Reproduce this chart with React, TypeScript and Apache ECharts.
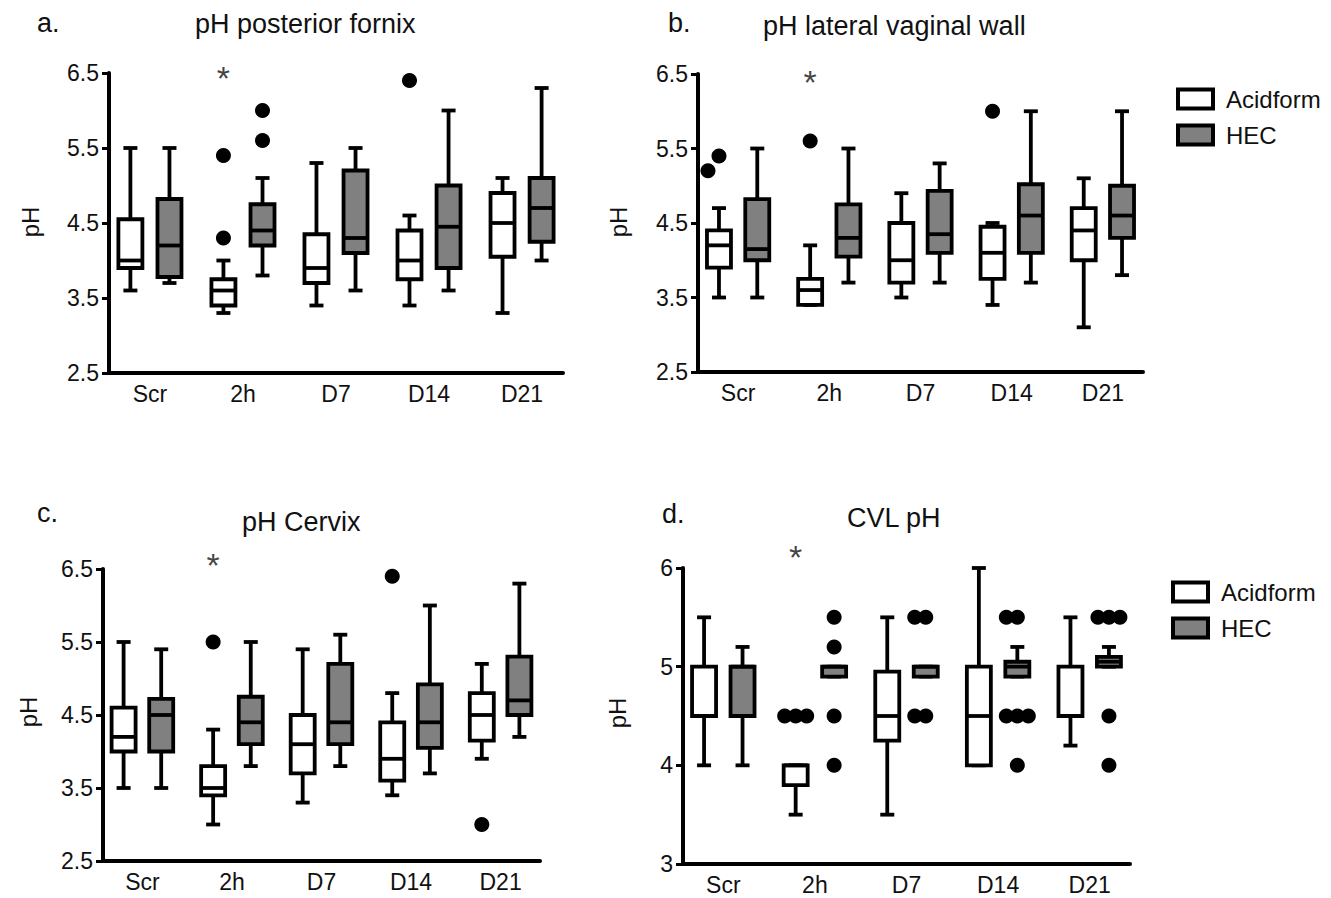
import React, { useEffect, useRef } from "react";
import * as echarts from "echarts";

// ---------- data ----------
const categories = ["Scr", "2h", "D7", "D14", "D21"];
const groupNames = ["Acidform", "HEC"];

// box stats per category: [low whisker, Q1, median, Q3, high whisker]
const aAcid = [[3.6, 3.9, 4.0, 4.55, 5.5], [3.3, 3.4, 3.6, 3.75, 4.0], [3.4, 3.7, 3.9, 4.35, 5.3], [3.4, 3.75, 4.0, 4.4, 4.6], [3.3, 4.05, 4.5, 4.9, 5.1]];
const aHec = [[3.7, 3.78, 4.2, 4.82, 5.5], [3.8, 4.2, 4.4, 4.75, 5.1], [3.6, 4.1, 4.3, 5.2, 5.5], [3.6, 3.9, 4.45, 5.0, 6.0], [4.0, 4.25, 4.7, 5.1, 6.3]];
const aAcidOut = [[1, 5.4], [1, 4.3], [3, 6.4]];
const aHecOut = [[1, 6.0], [1, 5.6]];

const bAcid = [[3.5, 3.9, 4.2, 4.4, 4.7], [3.4, 3.4, 3.6, 3.75, 4.2], [3.5, 3.7, 4.0, 4.5, 4.9], [3.4, 3.75, 4.1, 4.45, 4.5], [3.1, 4.0, 4.4, 4.7, 5.1]];
const bHec = [[3.5, 4.0, 4.15, 4.82, 5.5], [3.7, 4.05, 4.3, 4.75, 5.5], [3.7, 4.1, 4.35, 4.93, 5.3], [3.7, 4.1, 4.6, 5.02, 6.0], [3.8, 4.3, 4.6, 5.0, 6.0]];
const bAcidOut = [[0, 5.2], [0, 5.4], [1, 5.6], [3, 6.0]];
const bHecOut: number[][] = [];

const cAcid = [[3.5, 4.0, 4.2, 4.6, 5.5], [3.0, 3.4, 3.5, 3.8, 4.3], [3.3, 3.7, 4.1, 4.5, 5.4], [3.4, 3.6, 3.9, 4.4, 4.8], [3.9, 4.15, 4.5, 4.8, 5.2]];
const cHec = [[3.5, 4.0, 4.5, 4.72, 5.4], [3.8, 4.1, 4.4, 4.75, 5.5], [3.8, 4.1, 4.4, 5.2, 5.6], [3.7, 4.05, 4.4, 4.92, 6.0], [4.2, 4.5, 4.7, 5.3, 6.3]];
const cAcidOut = [[1, 5.5], [3, 6.4], [4, 3.0]];
const cHecOut: number[][] = [];

const dAcid = [[4.0, 4.5, 4.5, 5.0, 5.5], [3.5, 3.8, 4.0, 4.0, 4.0], [3.5, 4.25, 4.5, 4.95, 5.5], [4.0, 4.0, 4.5, 5.0, 6.0], [4.2, 4.5, 4.5, 5.0, 5.5]];
const dHec = [[4.0, 4.5, 5.0, 5.0, 5.2], [4.9, 4.9, 5.0, 5.0, 5.0], [4.9, 4.9, 5.0, 5.0, 5.0], [4.9, 4.9, 5.0, 5.05, 5.2], [5.0, 5.0, 5.05, 5.1, 5.2]];
const dAcidOut = [[1, 4.5], [1, 4.5], [1, 4.5]];
const dHecOut = [
  [1, 5.5], [1, 5.2], [1, 4.5], [1, 4.0],
  [2, 5.5], [2, 5.5], [2, 4.5], [2, 4.5],
  [3, 5.5], [3, 5.5], [3, 4.5], [3, 4.5], [3, 4.5], [3, 4.0],
  [4, 5.5], [4, 5.5], [4, 5.5], [4, 4.5], [4, 4.0],
];

// significance markers: [category index, y value]
const starA = [[1, 6.5]];
const starB = [[1, 6.46]];
const starC = [[1, 6.62]];
const starD = [[1, 6.16]];

const yTicksPH = [2.5, 3.5, 4.5, 5.5, 6.5];
const yTicksCVL = [3, 4, 5, 6];

const titles = ["pH posterior fornix", "pH lateral vaginal wall", "pH Cervix", "CVL pH"];
const letters = ["a.", "b.", "c.", "d."];

// ---------- styling ----------
const FONT = "'Liberation Sans', Arial, Helvetica, sans-serif";
const OFFSET = 0.21;
const BOX_W = 24;
const CAP_W = 14;
const LW = 3.8;
const DOT_R = 7.5;
const DOT_STEP = 11;
const FILLS = ["#ffffff", "#808080"];

const panels = [
  { grid: { left: 109, top: 73, width: 454, height: 300 }, yMin: 2.5, yMax: 6.5, yTicks: yTicksPH, acid: aAcid, hec: aHec, acidOut: aAcidOut, hecOut: aHecOut, star: starA },
  { grid: { left: 698, top: 74, width: 445, height: 298 }, yMin: 2.5, yMax: 6.5, yTicks: yTicksPH, acid: bAcid, hec: bHec, acidOut: bAcidOut, hecOut: bHecOut, star: starB },
  { grid: { left: 103, top: 569, width: 437, height: 292 }, yMin: 2.5, yMax: 6.5, yTicks: yTicksPH, acid: cAcid, hec: cHec, acidOut: cAcidOut, hecOut: cHecOut, star: starC },
  { grid: { left: 683, top: 568, width: 447, height: 296 }, yMin: 3, yMax: 6, yTicks: yTicksCVL, acid: dAcid, hec: dHec, acidOut: dAcidOut, hecOut: dHecOut, star: starD },
];

function boxSeries(name: string, stats: number[][], outs: number[][], gi: number, side: number, fill: string) {
  return {
    type: "custom",
    name,
    xAxisIndex: gi,
    yAxisIndex: gi,
    itemStyle: { color: fill, borderColor: "#000", borderWidth: LW },
    data: stats.map((s, i) => [i + 1 + side * OFFSET, ...s]),
    encode: { x: 0, y: [1, 2, 3, 4, 5] },
    renderItem: (params: any, api: any) => {
      const x = api.value(0);
      const lo = api.coord([x, api.value(1)]);
      const q1 = api.coord([x, api.value(2)]);
      const md = api.coord([x, api.value(3)]);
      const q3 = api.coord([x, api.value(4)]);
      const hi = api.coord([x, api.value(5)]);
      const cx = lo[0];
      const stroke = { stroke: "#000", lineWidth: LW, fill: "none" };
      const children: any[] = [
        { type: "line", shape: { x1: cx, y1: hi[1], x2: cx, y2: q3[1] }, style: stroke },
        { type: "line", shape: { x1: cx, y1: q1[1], x2: cx, y2: lo[1] }, style: stroke },
        { type: "line", shape: { x1: cx - CAP_W / 2, y1: hi[1], x2: cx + CAP_W / 2, y2: hi[1] }, style: stroke },
        { type: "line", shape: { x1: cx - CAP_W / 2, y1: lo[1], x2: cx + CAP_W / 2, y2: lo[1] }, style: stroke },
        { type: "rect", shape: { x: cx - BOX_W / 2, y: q3[1], width: BOX_W, height: q1[1] - q3[1] }, style: { fill, stroke: "#000", lineWidth: LW } },
        { type: "line", shape: { x1: cx - BOX_W / 2, y1: md[1], x2: cx + BOX_W / 2, y2: md[1] }, style: stroke },
      ];
      const vals = outs.filter((o) => o[0] === params.dataIndex).map((o) => o[1]).sort((a, b) => b - a);
      const placed: number[][] = [];
      vals.forEach((v) => {
        const p = api.coord([x, v]);
        for (let k = 0; k < 30; k++) {
          const step = k === 0 ? 0 : (k % 2 === 1 ? -Math.ceil(k / 2) : Math.ceil(k / 2));
          const px = p[0] + step * DOT_STEP;
          const hit = placed.some((q) => Math.abs(q[0] - px) < DOT_STEP * 0.5 && Math.abs(q[1] - p[1]) < 16);
          if (!hit) {
            placed.push([px, p[1]]);
            break;
          }
        }
      });
      placed.forEach((q) => {
        children.push({ type: "circle", shape: { cx: q[0], cy: q[1], r: DOT_R }, style: { fill: "#000" } });
      });
      return { type: "group", children };
    },
  };
}

function buildOption() {
  const grid: any[] = [];
  const xAxis: any[] = [];
  const yAxis: any[] = [];
  const series: any[] = [];
  panels.forEach((p, gi) => {
    grid.push({ ...p.grid, containLabel: false });
    xAxis.push({
      type: "value",
      gridIndex: gi,
      min: 0.56,
      max: 5.44,
      axisLine: { show: true, onZero: false, lineStyle: { color: "#000", width: 4 } },
      axisTick: { show: false },
      splitLine: { show: false },
      axisLabel: {
        customValues: [1, 2, 3, 4, 5],
        formatter: (v: number) => categories[Math.round(v) - 1] ?? "",
        fontSize: 23,
        fontFamily: FONT,
        color: "#111",
        margin: 9,
      },
    });
    yAxis.push({
      type: "value",
      gridIndex: gi,
      min: p.yMin,
      max: p.yMax,
      axisLine: { show: true, onZero: false, lineStyle: { color: "#000", width: 4 } },
      axisTick: { show: true, customValues: p.yTicks, length: 7, lineStyle: { color: "#000", width: 3 } },
      splitLine: { show: false },
      axisLabel: {
        customValues: p.yTicks,
        fontSize: 23,
        fontFamily: FONT,
        color: "#111",
        margin: 10,
      },
    });
    series.push(boxSeries(groupNames[0], p.acid, p.acidOut, gi, -1, FILLS[0]));
    series.push(boxSeries(groupNames[1], p.hec, p.hecOut, gi, 1, FILLS[1]));
    series.push({
      type: "scatter",
      xAxisIndex: gi,
      yAxisIndex: gi,
      clip: false,
      symbolSize: 0,
      silent: true,
      data: p.star.map((s) => [s[0] + 1 - OFFSET, s[1]]),
      label: {
        show: true,
        position: "inside",
        formatter: "*",
        fontSize: 34,
        fontFamily: FONT,
        color: "#111",
        offset: [0, 5],
      },
    });
  });

  const titleText = (text: string, x: number, y: number) => ({
    type: "text",
    x,
    y,
    style: { text, fontSize: 27, fontFamily: FONT, fill: "#111", align: "left", verticalAlign: "middle" },
  });
  const yName = (x: number, y: number) => ({
    type: "text",
    x,
    y,
    rotation: Math.PI / 2,
    style: { text: "pH", fontSize: 24, fontFamily: FONT, fill: "#111", align: "center", verticalAlign: "middle" },
  });

  const legendData = groupNames.map((n, i) => ({
    name: n,
    icon: "rect",
    itemStyle: { color: FILLS[i], borderColor: "#000", borderWidth: 4 },
  }));
  const legendBase = {
    orient: "vertical",
    itemWidth: 35,
    itemHeight: 19,
    itemGap: 12,
    selectedMode: false,
    data: legendData,
    textStyle: { fontSize: 24, fontFamily: FONT, color: "#111", padding: [0, 0, 0, 8] },
  };

  return {
    animation: false,
    backgroundColor: "#fff",
    grid,
    xAxis,
    yAxis,
    series,
    legend: [
      { ...legendBase, left: 1171, top: 82 },
      { ...legendBase, left: 1166, top: 575 },
    ],
    graphic: [
      titleText(letters[0], 37, 23),
      titleText(titles[0], 195, 24),
      titleText(letters[1], 668, 23),
      titleText(titles[1], 763, 26),
      titleText(letters[2], 37, 513),
      titleText(titles[2], 242, 522),
      titleText(letters[3], 662, 514),
      titleText(titles[3], 847, 518),
      yName(30, 222),
      yName(618, 222),
      yName(28, 712),
      yName(617, 713),
    ],
  };
}

export default function App() {
  const ref = useRef<HTMLDivElement>(null);
  useEffect(() => {
    if (!ref.current) return;
    const chart = echarts.init(ref.current, undefined, { renderer: "svg" });
    chart.setOption(buildOption() as any);
    return () => chart.dispose();
  }, []);
  return (
    <div
      ref={ref}
      style={{ position: "absolute", left: 0, top: 0, width: 1331, height: 898, background: "#fff" }}
    />
  );
}
